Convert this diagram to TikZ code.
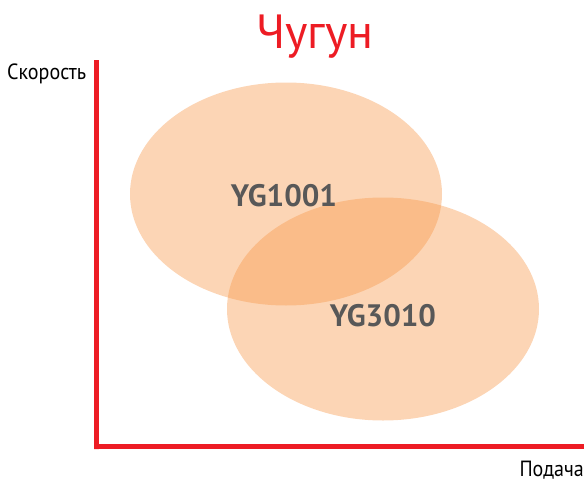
\documentclass[tikz,border=0pt]{standalone}
\usepackage{fontspec}
\setmainfont{PT Sans}
\newfontfamily\narrowfont{PT Sans}[FakeStretch=0.91]
\usepackage{xcolor}
\usepackage{tikz}
\usetikzlibrary{shapes.geometric}
\definecolor{axisred}{RGB}{237,28,36}
\definecolor{zonefill}{RGB}{247,150,70}
\definecolor{labelgray}{RGB}{88,88,88}

\begin{document}
\begin{tikzpicture}[
    x=1pt, y=-1pt,
    zone/.style={ellipse, fill=zonefill, fill opacity=0.4, minimum width=312pt, minimum height=223pt, inner sep=0pt},
    grade/.style={font=\bfseries\fontsize{31}{32}\selectfont, text=labelgray, inner sep=0pt},
    axislabel/.style={font=\narrowfont\fontsize{22}{24}\selectfont, inner sep=0pt},
    axis/.style={draw=axisred, line width=5pt}
]
    \useasboundingbox (0,0) rectangle (584,482);

    % Title
    \node[font=\fontsize{48}{50}\selectfont, text=axisred, inner sep=0pt, anchor=base] (title) at (315,48) {Чугун};

    % Zones
    \node[zone] (zoneA) at (286,194) {};
    \node[zone] (zoneB) at (383,309) {};
    \node[grade] (gradeA) at (284,196) {YG1001};
    \node[grade] (gradeB) at (383,316) {YG3010};

    % Axes
    \coordinate (origin) at (96.5,446.5);
    \coordinate (ytop) at (96.5,60);
    \coordinate (xend) at (584,446.5);
    \draw[axis] (ytop) -- (origin |- 0,449) -- (origin) -- (xend);

    % Axis labels
    \node[axislabel, anchor=west] (speed) at (7,74) {Скорость};
    \node[axislabel, anchor=east] (feed) at (584,470) {Подача};
\end{tikzpicture}
\end{document}
